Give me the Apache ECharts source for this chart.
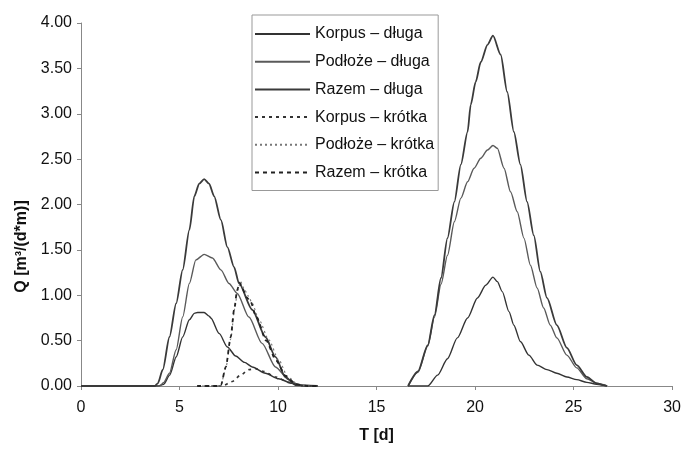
<!DOCTYPE html>
<html>
<head>
<meta charset="utf-8">
<script src="https://cdn.jsdelivr.net/npm/echarts@6/dist/echarts.min.js"></script>
<style>
  html, body { margin: 0; padding: 0; background: #fff; }
  #chart { width: 684px; height: 450px; }
</style>
</head>
<body>
<div id="chart"></div>
<script>
// nazwy serii (legenda)
const seriesNames = [
    'Korpus – długa', 'Podłoże – długa', 'Razem – długa',
    'Korpus – krótka', 'Podłoże – krótka', 'Razem – krótka'
];

// punkty [T, Q]; null = przerwa w linii
const korpusDluga = [
    [0, 0], [3.9, 0], [4.2, 0.02], [4.5, 0.12], [4.83, 0.32], [5.16, 0.54], [5.5, 0.73], [5.75, 0.8],
    [5.92, 0.81], [6.25, 0.81], [6.5, 0.77], [6.59, 0.75], [7.01, 0.58], [7.43, 0.43], [7.85, 0.33],
    [8.3, 0.26], [8.69, 0.21], [9.36, 0.14], [10.03, 0.08], [10.7, 0.03], [11.4, 0], [12, 0], null,
    [16.6, 0], [17.6, 0], [18.1, 0.12], [18.6, 0.3], [19.1, 0.53], [19.62, 0.75], [20.12, 0.97],
    [20.54, 1.11], [20.91, 1.2], [21.13, 1.15], [21.38, 1.04], [21.72, 0.82], [21.97, 0.67], [22.3, 0.49],
    [22.73, 0.34], [23.15, 0.23], [23.65, 0.18], [24.15, 0.14], [24.66, 0.1], [25.16, 0.07],
    [25.67, 0.04], [26.17, 0.02], [26.7, 0]
];
const podlozeDluga = [
    [0, 0], [4.0, 0], [4.2, 0.04], [4.49, 0.14], [4.83, 0.4], [5.16, 0.76], [5.5, 1.13], [5.83, 1.39],
    [6.25, 1.45], [6.67, 1.41], [7.1, 1.28], [7.51, 1.13], [7.93, 1.02], [8.52, 0.76], [9.19, 0.47],
    [9.87, 0.21], [10.54, 0.07], [11.04, 0.01], [12, 0], null,
    [16.6, 0], [17.1, 0.15], [17.6, 0.44], [17.94, 0.76], [18.27, 1.12], [18.6, 1.44], [18.95, 1.81],
    [19.28, 2.07], [19.62, 2.25], [19.95, 2.4], [20.29, 2.51], [20.63, 2.6], [20.91, 2.65], [21.13, 2.62],
    [21.47, 2.4], [21.8, 2.14], [22.14, 1.92], [22.48, 1.63], [22.81, 1.33], [23.15, 1.08], [23.48, 0.86],
    [23.82, 0.67], [24.15, 0.53], [24.66, 0.34], [25.16, 0.2], [25.67, 0.08], [26.17, 0.03], [26.7, 0]
];
const razemDluga = [
    [0, 0], [3.75, 0], [3.9, 0.03], [4.15, 0.18], [4.49, 0.54], [4.83, 0.91], [5.16, 1.28], [5.5, 1.72],
    [5.75, 2.09], [6.0, 2.23], [6.25, 2.28], [6.5, 2.23], [6.76, 2.09], [7.1, 1.83], [7.43, 1.53],
    [7.77, 1.31], [8.02, 1.13], [8.69, 0.84], [9.36, 0.54], [9.87, 0.32], [10.37, 0.1], [10.88, 0.01],
    [12, 0], null,
    [16.6, 0], [17.1, 0.16], [17.6, 0.45], [17.94, 0.78], [18.27, 1.19], [18.6, 1.63], [18.95, 2.03],
    [19.28, 2.44], [19.62, 2.8], [19.78, 3.1], [20.03, 3.35], [20.29, 3.57], [20.63, 3.76], [20.91, 3.86],
    [21.3, 3.65], [21.63, 3.24], [21.97, 2.8], [22.3, 2.44], [22.64, 2.03], [22.98, 1.66], [23.31, 1.26],
    [23.65, 0.97], [24.15, 0.67], [24.66, 0.42], [25.16, 0.23], [25.67, 0.1], [26.17, 0.03], [26.51, 0.01],
    [26.7, 0]
];
const korpusKrotka = [
    [5.9, 0], [7.18, 0], [7.68, 0.05], [8.1, 0.12], [8.52, 0.18], [8.86, 0.19], [9.28, 0.16],
    [9.87, 0.1], [10.54, 0.04], [11.2, 0], [12, 0]
];
const podlozeKrotka = [
    [5.9, 0], [7.0, 0], [7.1, 0.01], [7.35, 0.2], [7.6, 0.52], [7.8, 0.85], [7.95, 1.05], [8.1, 1.15],
    [8.3, 1.06], [8.5, 0.99], [8.69, 0.91], [9.03, 0.73], [9.53, 0.51], [10.03, 0.29], [10.5, 0.1],
    [11.0, 0.02], [11.5, 0], [12, 0]
];
const razemKrotka = [
    [5.9, 0], [7.0, 0], [7.1, 0.01], [7.35, 0.21], [7.6, 0.54], [7.77, 0.84], [7.93, 1.06], [8.05, 1.14],
    [8.2, 1.07], [8.4, 0.98], [8.6, 0.93], [8.9, 0.76], [9.4, 0.5], [9.9, 0.28], [10.4, 0.11],
    [10.9, 0.02], [11.5, 0], [12, 0]
];

const seriesData = [korpusDluga, podlozeDluga, razemDluga, korpusKrotka, podlozeKrotka, razemKrotka];

// styl linii dla każdej serii
const lineStyles = [
    { color: '#333', width: 1.4, type: 'solid' },
    { color: '#5a5a5a', width: 1.4, type: 'solid' },
    { color: '#3a3a3a', width: 1.8, type: 'solid' },
    { color: '#333', width: 1.6, type: [3, 4] },
    { color: '#777', width: 1.1, type: [2, 3] },
    { color: '#222', width: 1.8, type: [4, 4] }
];

const font = '"Liberation Sans", Arial, sans-serif';

const chart = echarts.init(document.getElementById('chart'));

const option = {
    backgroundColor: '#fff',
    animation: false,
    grid: { left: 81, right: 8, top: 23, bottom: 64 },
    legend: {
        orient: 'vertical',
        left: 252,
        top: 15,
        padding: [11, 4, 10, 2],
        itemWidth: 55,
        itemHeight: 14,
        itemGap: 11.7,
        backgroundColor: '#fff',
        borderColor: '#999',
        borderWidth: 1,
        borderRadius: 0,
        itemStyle: { opacity: 0 },
        textStyle: { fontFamily: font, fontSize: 16, color: '#111', lineHeight: 16 },
        data: seriesNames
    },
    xAxis: {
        type: 'value',
        min: 0,
        max: 30,
        interval: 5,
        name: 'T [d]',
        nameLocation: 'middle',
        nameGap: 42,
        nameTextStyle: { fontFamily: font, fontSize: 16, fontWeight: 'bold', color: '#111' },
        axisLine: { lineStyle: { color: '#888', width: 1 } },
        axisTick: { show: true, length: 4, lineStyle: { color: '#888' } },
        axisLabel: { fontFamily: font, fontSize: 16, color: '#111', margin: 14 },
        splitLine: { show: false }
    },
    yAxis: {
        type: 'value',
        min: 0,
        max: 4,
        interval: 0.5,
        name: 'Q [m³/(d*m)]',
        nameLocation: 'middle',
        nameRotate: 90,
        nameGap: 38,
        nameTextStyle: { fontFamily: font, fontSize: 16, fontWeight: 'bold', color: '#111', padding: [0, 84, 0, 0] },
        axisLine: { show: true, lineStyle: { color: '#888', width: 1 } },
        axisTick: { show: true, length: 4, lineStyle: { color: '#888' } },
        axisLabel: {
            fontFamily: font, fontSize: 16, color: '#111', margin: 9,
            formatter: v => v.toFixed(2)
        },
        splitLine: { show: false }
    },
    series: seriesNames.map((name, i) => ({
        name: name,
        type: 'line',
        data: seriesData[i].map(p => (p === null ? ['-', '-'] : p)),
        showSymbol: false,
        symbol: 'none',
        smooth: 0.25,
        smoothMonotone: 'x',
        connectNulls: false,
        lineStyle: lineStyles[i],
        itemStyle: { color: lineStyles[i].color },
        z: i >= 3 ? 3 : 2
    }))
};

chart.setOption(option);
window.addEventListener('resize', () => chart.resize());
</script>
</body>
</html>
